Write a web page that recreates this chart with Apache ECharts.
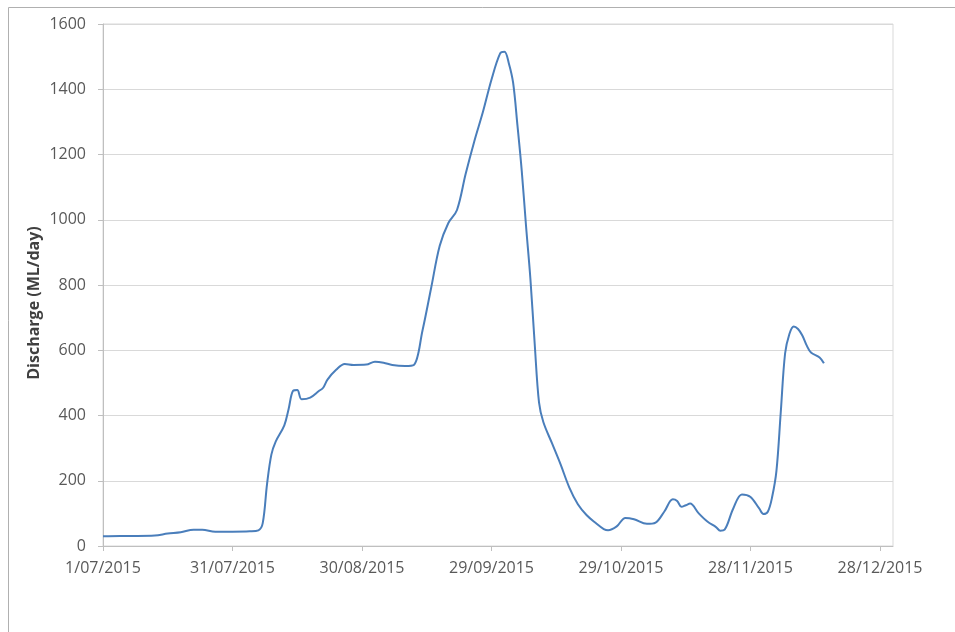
<!DOCTYPE html>
<html>
<head>
<meta charset="utf-8">
<script src="https://cdn.jsdelivr.net/npm/echarts@6/dist/echarts.min.js"></script>
<style>
html,body{margin:0;padding:0;background:#fff;}
#chart{width:955px;height:632px;}
</style>
</head>
<body>
<div id="chart"></div>
<script>
var dates = [
"2015-07-01","2015-07-05","2015-07-09","2015-07-13","2015-07-16","2015-07-19","2015-07-22","2015-07-24","2015-07-27","2015-07-31",
"2015-08-04","2015-08-06","2015-08-07","2015-08-08","2015-08-09","2015-08-10","2015-08-12","2015-08-13","2015-08-14","2015-08-15",
"2015-08-16","2015-08-18","2015-08-20","2015-08-21","2015-08-22","2015-08-24","2015-08-26","2015-08-28","2015-08-31",
"2015-09-02","2015-09-04","2015-09-06","2015-09-09","2015-09-11","2015-09-13","2015-09-15","2015-09-17","2015-09-19","2015-09-21",
"2015-09-23","2015-09-25","2015-09-27","2015-09-29",
"2015-10-01","2015-10-02","2015-10-03","2015-10-04","2015-10-05","2015-10-06","2015-10-07","2015-10-08","2015-10-09","2015-10-10",
"2015-10-11","2015-10-13","2015-10-15","2015-10-17","2015-10-19","2015-10-21","2015-10-23","2015-10-25","2015-10-26","2015-10-28","2015-10-30",
"2015-11-01","2015-11-04","2015-11-06","2015-11-08","2015-11-10","2015-11-11","2015-11-12","2015-11-13","2015-11-14","2015-11-16",
"2015-11-18","2015-11-20","2015-11-21","2015-11-22","2015-11-24","2015-11-26","2015-11-28","2015-11-30",
"2015-12-01","2015-12-02","2015-12-03","2015-12-04","2015-12-05","2015-12-06","2015-12-07","2015-12-08","2015-12-09","2015-12-10",
"2015-12-11","2015-12-12","2015-12-14","2015-12-15"
];
var discharge = [
30,31,31,32,38,42,50,50,44,44,
45,48,70,190,280,320,370,420,475,478,
450,455,475,485,510,540,558,555,556,
565,562,555,552,555,660,790,920,990,1030,
1140,1240,1330,1430,
1510,1515,1480,1420,1290,1150,980,820,620,440,
380,315,250,180,128,95,72,52,48,60,86,
82,68,72,105,143,138,120,125,130,100,
75,58,47,50,115,158,150,115,
98,105,150,230,410,590,650,673,665,645,
615,593,578,560
];
var yTicks = [0,200,400,600,800,1000,1200,1400,1600];
var startDate = "2015-07-01";
var endDate = "2015-12-31";
var yAxisTitle = "Discharge (ML/day)";

function dayOffset(s){
  var p = s.split("-"), q = startDate.split("-");
  return Math.round((Date.UTC(+p[0], +p[1]-1, +p[2]) - Date.UTC(+q[0], +q[1]-1, +q[2])) / 86400000);
}
function fmtDay(v){
  var q = startDate.split("-");
  var d = new Date(Date.UTC(+q[0], +q[1]-1, +q[2]) + v*86400000);
  var mm = d.getUTCMonth()+1;
  return d.getUTCDate() + "/" + (mm<10?"0":"") + mm + "/" + d.getUTCFullYear();
}
var seriesData = dates.map(function(s,i){ return [dayOffset(s), discharge[i]]; });

var chart = echarts.init(document.getElementById('chart'));
var font = "'Open Sans', 'Liberation Sans', sans-serif";
chart.setOption({
  animation:false,
  backgroundColor:'#ffffff',
  grid:{left:103, top:24, right:62, bottom:86, show:true, borderColor:'#d9d9d9', borderWidth:1, backgroundColor:'transparent'},
  xAxis:{
    type:'value', min:0, max:dayOffset(endDate), interval:30,
    axisLine:{show:true, lineStyle:{color:'#bfbfbf', width:1}},
    axisTick:{show:true, length:5, lineStyle:{color:'#bfbfbf'}},
    splitLine:{show:false},
    axisLabel:{color:'#595959', fontSize:16, fontFamily:font, margin:14, formatter:function(v){return fmtDay(v);}, showMaxLabel:false}
  },
  yAxis:{
    type:'value', min:yTicks[0], max:yTicks[yTicks.length-1], interval:200,
    axisLine:{show:true, lineStyle:{color:'#bfbfbf', width:1}},
    axisTick:{show:true, length:5, lineStyle:{color:'#bfbfbf'}},
    splitLine:{show:true, lineStyle:{color:'#d9d9d9', width:1}},
    axisLabel:{color:'#595959', fontSize:16, fontFamily:font, margin:17, formatter:function(v){return String(v);}}
  },
  graphic:[
    {type:'rect', shape:{x:8.5, y:7.5, width:1200, height:800}, style:{fill:'none', stroke:'#b0b0b0', lineWidth:1}, silent:true, z:-1},
    {type:'text', x:34, y:303, rotation:Math.PI/2, style:{text:yAxisTitle, font:"bold 16px " + font, fill:'#404040', align:'center', verticalAlign:'middle'}}
  ],
  series:[{
    type:'line', data:seriesData, smooth:0.35, showSymbol:false,
    lineStyle:{color:'#4A7EBB', width:2}, itemStyle:{color:'#4A7EBB'}
  }]
});
</script>
</body>
</html>
